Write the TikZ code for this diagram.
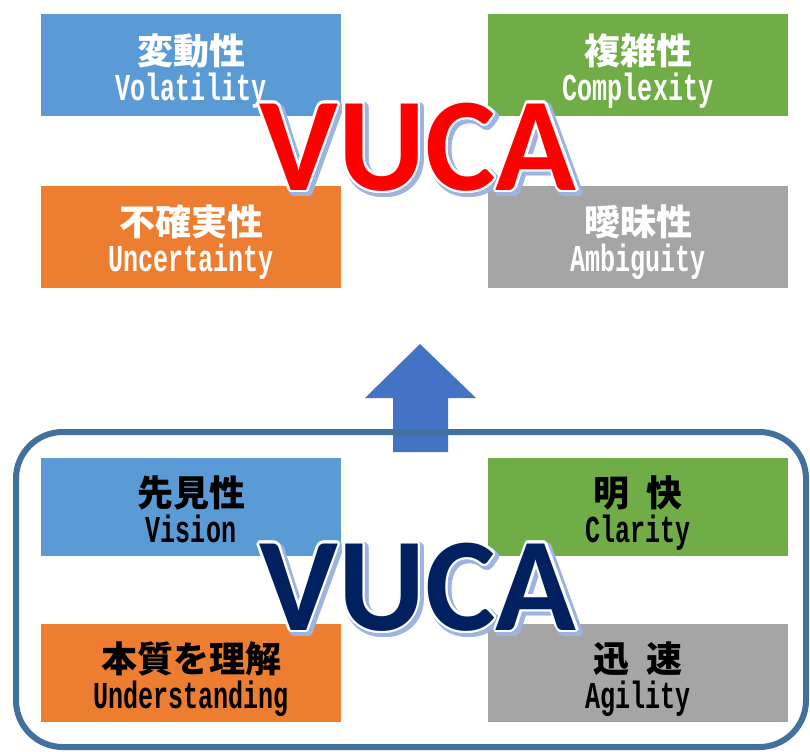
\documentclass[tikz,border=0pt]{standalone}
\usepackage{fontspec}
\newfontfamily\jpfont{Noto Sans CJK JP}
\newfontfamily\latfont[FakeStretch=0.66]{Liberation Mono}
\newfontfamily\vucafont{Carlito}
\usepackage{tikz}
\tikzset{
  every node/.style = {
    inner sep = 0pt,
    outer sep = 0pt
  }
}
\definecolor{cellblue}{HTML}{5B9BD5}
\definecolor{cellgreen}{HTML}{70AD47}
\definecolor{cellorange}{HTML}{ED7D31}
\definecolor{cellgray}{HTML}{A5A5A5}
\definecolor{arrowblue}{HTML}{4472C4}
\definecolor{framesteel}{HTML}{41719C}
\definecolor{wordnavy}{HTML}{002060}
\definecolor{wordred}{HTML}{FF0000}
\definecolor{shadeblue}{HTML}{9DB4E0}
\newcommand\eng[1]{{\latfont\bfseries\fontsize{28.5pt}{27pt}\selectfont #1}}

\begin{document}
\begin{tikzpicture}[
    x = 0.75pt,
    y = -0.75pt,
    cell/.style = {
      minimum width = 225pt,
      align = center,
      text height = 60pt,
      text depth = 7.5pt,
      font = \jpfont\bfseries\fontsize{27pt}{27pt}\selectfont,
    },
    upper cell/.style = {
      cell,
      minimum height = 76.5pt,
      text = white,
    },
    lower cell/.style = {
      cell,
      minimum height = 73.5pt,
      text = black,
    },
    word/.style = {
      anchor = base,
      font = \vucafont\bfseries\fontsize{100pt}{100pt}\selectfont,
    },
  ]
  \useasboundingbox (0,0) rectangle (810,751);

  \node [upper cell, fill=cellblue] (volatility) at (191,65) {変動性\\\eng{Volatility}};
  \node [upper cell, fill=cellgreen] (complexity) at (638,65) {複雑性\\\eng{Complexity}};
  \node [upper cell, fill=cellorange] (uncertainty) at (191,236.5) {不確実性\\\eng{Uncertainty}};
  \node [upper cell, fill=cellgray] (ambiguity) at (638,236.5) {曖昧性\\\eng{Ambiguity}};

  \node [lower cell, fill=cellblue] (vision) at (191,507) {先見性\\\eng{Vision}};
  \node [lower cell, fill=cellgreen] (clarity) at (638,507) {明\enspace 快\\\eng{Clarity}};
  \node [lower cell, fill=cellorange] (understanding) at (191,673) {本質を理解\\\eng{Understanding}};
  \node [lower cell, fill=cellgray] (agility) at (638,673) {迅\enspace 速\\\eng{Agility}};

  % arrow up
  \fill [arrowblue] (393,452) -- (393,398) -- (365,398) -- (420,344)
    -- (476,398) -- (448,398) -- (448,452) -- cycle;
  \draw [framesteel, line width=4.5pt, rounded corners=35pt] (16,432) rectangle (806,747);

  \coordinate (upper word) at (418,190);
  \coordinate (lower word) at (418,630);
  \foreach \pos/\col in {upper word/wordred, lower word/wordnavy} {
    \foreach \a [count=\i] in {0,22.5,...,337.5} {
      \node [word, text=shadeblue] (\col-shade\i)
        at ([shift={(3,3)}, shift={(\a:3.5)}]\pos) {VUCA};
    }
    \foreach \a [count=\i] in {0,22.5,...,337.5} {
      \node [word, text=white] (\col-rim\i) at ([shift={(\a:2.5)}]\pos) {VUCA};
    }
    \node [word, text=\col] (\col-text) at (\pos) {VUCA};
  }
\end{tikzpicture}
\end{document}
